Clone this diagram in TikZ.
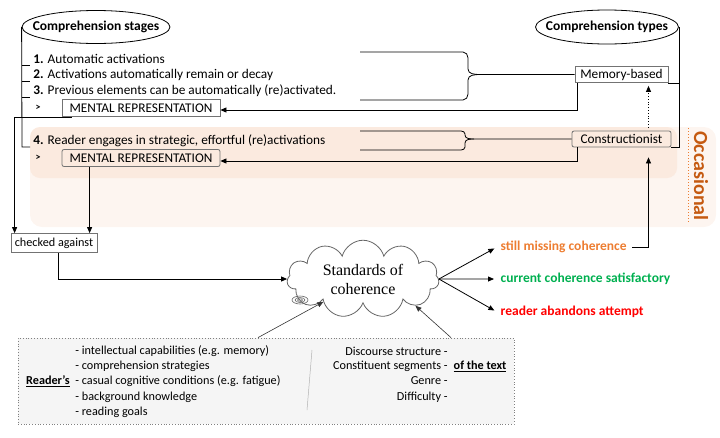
\documentclass[tikz,border=0pt]{standalone}
\usepackage{fontspec}
\setmainfont{Carlito}
\newfontfamily\cloudfont{Liberation Serif}
\usetikzlibrary{shapes.geometric,shapes.symbols,arrows.meta,positioning}
\definecolor{peachdark}{HTML}{FBEADF}
\definecolor{peachlight}{HTML}{FDF5F0}
\definecolor{occbrown}{HTML}{C55A11}
\definecolor{missorange}{HTML}{ED7D31}
\definecolor{okgreen}{HTML}{00B050}
\definecolor{boxgrey}{HTML}{F5F5F5}
\tikzset{
  headell/.style={ellipse,draw,inner xsep=-12pt,inner ysep=0pt,font=\bfseries\fontsize{13.5}{16}\selectfont},
  mrbox/.style={draw=gray!90!black,minimum width=158pt,minimum height=17pt,inner sep=0pt},
  typebox/.style={draw=gray!90!black,minimum height=16pt,inner sep=0pt},
  arr/.style={-{Triangle[length=6pt,width=5pt]}},
  outcome/.style={anchor=west,font=\bfseries\fontsize{13.5}{16}\selectfont},
  factor/.style={font=\fontsize{12.2}{14}\selectfont}
}
\begin{document}
\begin{tikzpicture}[x=1pt,y=-1pt,line width=0.8pt,font=\fontsize{13.3}{16}\selectfont]
\useasboundingbox (0,0) rectangle (720,437);
\fill[peachlight,rounded corners=12pt] (30,127) rectangle (716,227);
\fill[peachdark,rounded corners=10pt] (30,127) rectangle (677,178);
\draw[missorange,dotted,line width=1pt] (688,128) -- (688,222);
\node[rotate=-90,text=occbrown,font=\bfseries\fontsize{20}{22}\selectfont] (occ) at (701,176) {Occasional};

\node[headell,minimum width=148pt,minimum height=33pt] (stages) at (96,27) {Comprehension stages};
\node[headell,minimum width=143pt,minimum height=34pt] (types) at (607,27) {Comprehension types};

\foreach \n/\y/\t in {1/59/Automatic activations,2/75/Activations automatically remain or decay,3/91/Previous elements can be automatically (re)activated.}
  \node[anchor=west,inner sep=0pt] (step\n) at (33,\y) {\textbf{\n.} \t};
\node[anchor=west,inner sep=0pt] (step4) at (33,141) {\textbf{4.} Reader engages in strategic, effortful (re)activations};
\draw (stages.west) -- (22,147) -- (30,147);
\foreach \y in {65,81,97}
  \draw (22,\y) -- (30,\y);

\node[font=\bfseries] (gt1) at (38,108) {>};
\node[font=\bfseries] (gt2) at (38,158) {>};
\node[mrbox] (mr1) at (141,108) {MENTAL REPRESENTATION};
\node[mrbox,rounded corners=2pt] (mr2) at (141,158) {MENTAL REPRESENTATION};

\node[typebox,minimum width=93pt] (mem) at (621.5,74.5) {Memory-based};
\node[typebox,minimum width=99pt,rounded corners=2pt] (cons) at (621.5,139) {Constructionist};
\draw (types.east) |- (cons.south east);
\draw (mem.south east) -- (mem.south east -| types.east);

\coordinate (memtop) at (360,52);
\coordinate (membot) at (360,100);
\draw (memtop) -- (463,52) to[out=0,in=90] (468,58) -- (468,69) to[out=-90,in=180] (480,74.5) -- (mem.west);
\draw (membot) -- (463,100) to[out=0,in=-90] (468,94) -- (468,80) to[out=90,in=180] (480,74.5);
\coordinate (constop) at (360,131);
\coordinate (consbot) at (360,150);
\draw (constop) -- (461,131) to[out=0,in=90] (465,134) -- (465,135) to[out=-90,in=180] (474,139) -- (cons.west);
\draw (consbot) -- (461,150) to[out=0,in=-90] (465,147) -- (465,143) to[out=90,in=180] (474,139);

\draw[arr] ([xshift=3pt]mem.south west) |- ([yshift=-2pt]mr1.east);
\draw[arr] ([xshift=6pt]cons.south west) |- ([yshift=-3pt]mr2.east);
\draw[arr,dotted,shorten <=3pt,shorten >=3pt] ([xshift=27pt]cons.north) -- ([xshift=27pt]mem.south);

\node[draw=gray!90!black,minimum width=86pt,minimum height=19pt,inner sep=0pt,font=\fontsize{12.2}{14}\selectfont] (check) at (54,243) {checked against};
\draw[arr] ([xshift=10pt]mr1.south west) -| ([xshift=4pt]check.north west);
\draw[arr] ([xshift=28pt]mr2.south west) -- ([xshift=28pt]mr2.south west |- check.north);

\node[cloud,draw=gray!80!black,cloud puffs=11,aspect=2.4,minimum width=152pt,minimum height=60pt,align=center,font=\cloudfont\fontsize{16}{19}\selectfont] (soc) at (363,279) {Standards of\\coherence};
\draw[gray!80!black,line width=0.6pt] (300,300) ellipse (8 and 4) (300,300) ellipse (5 and 2.5) (300,300) ellipse (2.5 and 1.2);
\draw[arr] ([xshift=4pt]check.south) |- (soc.west);

\node[outcome,text=missorange] (missing) at (497,247) {still missing coherence};
\node[outcome,text=okgreen] (satisfied) at (497,279) {current coherence satisfactory};
\node[outcome,text=red] (abandon) at (497,312) {reader abandons attempt};
\foreach \o in {missing,satisfied,abandon}
  \draw[arr,shorten >=3pt] (soc.east) -- (\o.west);
\draw[arr,line width=0.6pt,shorten <=2pt,shorten >=10pt] (missing.east) -| ([xshift=27pt]cons.south);

\node[draw=gray,dotted,fill=boxgrey,minimum width=496pt,minimum height=86pt] (factors) at (266,381) {};
\foreach \y/\t in {351/intellectual capabilities (e.g. memory),366/comprehension strategies,381/casual cognitive conditions (e.g. fatigue),397/background knowledge,412/reading goals}
  \node[factor,anchor=west,inner sep=0pt] at (75,\y) {- \t};
\node[factor,font=\bfseries\fontsize{12.2}{14}\selectfont] (reader) at (48,381) {\underline{Reader's}};
\foreach \y/\t in {351/Discourse structure,366/Constituent segments,381/Genre,397/Difficulty}
  \node[factor,anchor=east,inner sep=0pt] at (448,\y) {\t\ -};
\node[factor,anchor=west,font=\bfseries\fontsize{12.2}{14}\selectfont] (text) at (450,366) {\underline{of the text}};
\draw[gray!60,line width=0.5pt] (312,350) -- (307,410);
\draw[arr,gray!40!black,line width=0.6pt] ([xshift=-8pt]factors.north) -- (soc.210);
\draw[arr,gray!40!black,line width=0.6pt] ([xshift=185pt]factors.north) -- (soc.333);
\end{tikzpicture}
\end{document}
